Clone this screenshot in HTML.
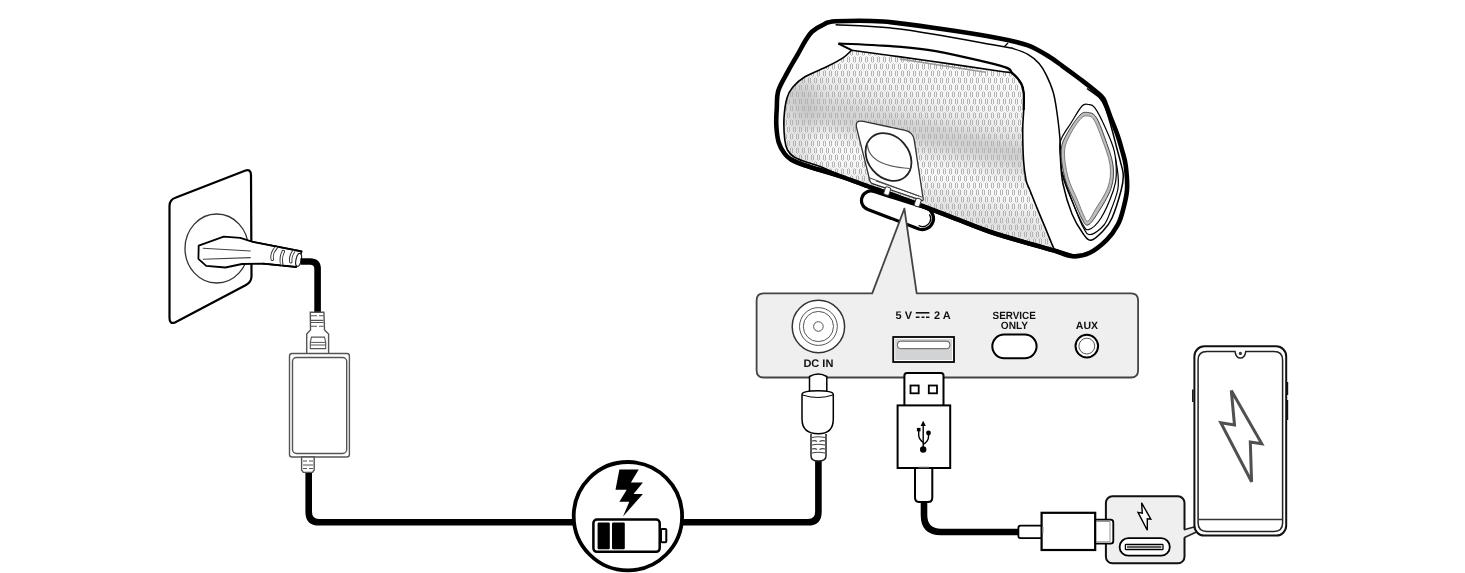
<!DOCTYPE html>
<html><head><meta charset="utf-8">
<style>
html,body{margin:0;padding:0;background:#fff;width:1465px;height:573px;overflow:hidden}
svg{position:absolute;left:0;top:0;display:block;will-change:transform}
text{font-family:"Liberation Sans",sans-serif;font-weight:bold;text-rendering:geometricPrecision}
</style></head>
<body>
<svg width="1465" height="573" viewBox="0 0 1465 573">
<defs>
<pattern id="grille" patternUnits="userSpaceOnUse" x="0" y="0" width="6" height="14">
<path d="M1,1h1v5h-1z M3,1h1v5h-1z M4,8h1v5h-1z M0,8h1v5h-1z M6,8h1v5h-1z" fill="#b3b3b3" shape-rendering="crispEdges"/>
<path d="M2,0h1v1h-1z M2,6h1v1h-1z M5,7h1v1h-1z M5,13h1v1h-1z" fill="#c6c6c6" shape-rendering="crispEdges"/>
</pattern>
<linearGradient id="gshade" gradientUnits="userSpaceOnUse" x1="915" y1="40" x2="865" y2="235">
<stop offset="0" stop-color="#fcfcfc"/>
<stop offset="0.25" stop-color="#f4f4f4"/>
<stop offset="0.4" stop-color="#dedede"/>
<stop offset="0.52" stop-color="#ececec"/>
<stop offset="0.62" stop-color="#fafafa"/>
<stop offset="0.8" stop-color="#ededed"/>
<stop offset="1" stop-color="#f6f6f6"/>
</linearGradient>
<linearGradient id="gleft" gradientUnits="userSpaceOnUse" x1="784" y1="0" x2="830" y2="0">
<stop offset="0" stop-color="#000" stop-opacity="0.07"/>
<stop offset="1" stop-color="#000" stop-opacity="0"/>
</linearGradient>
<filter id="gblur" x="-20%" y="-50%" width="140%" height="200%"><feGaussianBlur stdDeviation="7"/></filter>
</defs>

<!-- ============ WALL SOCKET ============ -->
<g id="wall">
<path d="M176,197.5 L245.5,170.5 Q251,168.8 251,175 L251.5,276 Q251.5,282 246,285 L175,322.5 Q169.5,324.5 169.5,318 L169.5,206 Q169.5,199.5 176,197.5 Z" fill="#fff" stroke="#000" stroke-width="2.2"/>
<ellipse cx="216.7" cy="248.5" rx="31.7" ry="34.5" fill="none" stroke="#333" stroke-width="1.3"/>
<path d="M198.7,245.7 L223.7,236.6 L240.3,237.9 L252.7,241.8 L301.6,251.4 L296.3,267 L263,263.6 L242,264 L225.4,267.5 L206.2,265.8 L198.4,258.8 Z" fill="#fff" stroke="#000" stroke-width="1.8" stroke-linejoin="round"/>
<path d="M202.8,248.3 L250.7,251 M202.8,259.3 L250.7,257.6" stroke="#444" stroke-width="1.1" fill="none"/>
<ellipse cx="298.6" cy="259.8" rx="2.6" ry="6.6" fill="#fff" stroke="#222" stroke-width="1.2" transform="rotate(12 298.6 259.8)"/>
<g fill="none" stroke-linecap="round">
<path d="M276,248 Q271,253 272.3,259.3 M281.7,264 Q280.3,257 283.3,251.6 M293.5,251.5 Q290,256 290.8,261.8" stroke="#333" stroke-width="3.4"/>
<path d="M277,246.5 Q271,253 272.3,259.3 M281.7,266 Q280.3,257 283.3,251.6 M294.5,250 Q290,256 290.8,261.8" stroke="#fff" stroke-width="1.6"/>
</g>
<path d="M252.7,241.8 L301.6,251.4 M263,263.6 L296.3,267" fill="none" stroke="#000" stroke-width="1.6"/>
</g>

<!-- ============ CABLES ============ -->
<g fill="none" stroke="#000" stroke-width="6.6" stroke-linecap="butt">
<path d="M300.5,261.5 L310,261.5 Q317.6,261.5 317.6,269 L317.6,314"/>
<path d="M308.7,470 L308.7,512 Q308.7,522.3 319,522.3 L580,522.3"/>
<path d="M676,522.3 L808,522.3 Q818.4,522.3 818.4,512 L818.4,458"/>
<path d="M924,500 L924,515 Q924,532 941,532 L1020,532"/>
</g>

<!-- ============ ADAPTER ============ -->
<g id="adapter" fill="#fff" stroke="#555" stroke-width="1.4">
<path d="M310.3,312.3 L323.9,312.3 L324.5,330 L328.6,334 L328.6,354 L306.7,354 L306.7,334 L310.5,330 Z"/>
<path d="M311,315.7 H317 M319,315.7 H323.5 M311,320.4 H323.5 M311,322.5 H323.5 M311,326.2 H317 M319,326.2 H323.5" fill="none" stroke-width="1.1"/>
<path d="M311.5,337.1 H324.5 L325.7,342.4 L325.7,348.6 L310.3,348.6 L310.3,342.4 Z" fill="none" stroke-width="1.1"/>
<path d="M310.3,342.4 H325.7 M310.3,345 H325.7" fill="none" stroke-width="1"/>
<rect x="289.5" y="353.5" width="59.9" height="103.5" rx="2.5"/>
<rect x="292.5" y="357.5" width="54.2" height="96" rx="4"/>
<path d="M301.6,457 L314.2,457 L314.2,470 L312.5,472.4 L303.3,472.4 L301.6,470 Z"/>
<path d="M303,461 H307 M309,461 H313 M303,465 H313 M303,468.5 H307 M309,468.5 H313" fill="none" stroke-width="1"/>
</g>

<!-- ============ CHARGE ICON ============ -->
<g id="charge">
<circle cx="627.9" cy="516.2" r="54.2" fill="#fff" stroke="#000" stroke-width="3.8"/>
<path d="M619.4,469.6 L638.7,469.6 L630.9,482.5 L642.9,482.5 L633.5,494 L642.9,494 L623,516.5 L629.3,501.7 L619.4,501.7 L626.7,489.8 L615.5,489.8 Z" fill="#000"/>
<rect x="593.4" y="519.5" width="66.3" height="32.3" rx="3.5" fill="#fff" stroke="#000" stroke-width="2.5"/>
<rect x="661" y="529" width="5.3" height="13.3" rx="1" fill="#fff" stroke="#000" stroke-width="2"/>
<rect x="597.6" y="522.6" width="12.2" height="26.6" rx="1.2" fill="#000"/>
<rect x="612" y="522.6" width="12.8" height="26.6" rx="1.2" fill="#000"/>
</g>

<!-- ============ SPEAKER ============ -->
<g id="speaker">
<!-- foot -->
<path d="M874.1,191.5 L926.1,208.1 A11,11 0 0 1 918.9,228.9 L867.9,209.5 A9.5,9.5 0 0 1 874.1,191.5 Z" fill="#fff" stroke="#000" stroke-width="3.2"/>
<path d="M929.4,214.4 A8,8 0 0 1 918.6,225.5" fill="none" stroke="#000" stroke-width="1.4"/>
<path d="M835.6,21.3 C845.6,20.8 865.3,20.2 883.0,21.5 C900.7,22.8 922.5,26.2 942.0,29.0 C961.5,31.8 985.7,35.7 1000.0,38.4 C1014.3,41.1 1019.8,42.4 1027.9,45.4 C1036.1,48.4 1043.1,53.0 1048.9,56.5 C1054.7,60.0 1057.6,62.5 1062.8,66.3 C1068.0,70.0 1073.5,74.0 1080.0,79.0 C1086.5,84.0 1097.2,92.2 1101.5,96.5 C1105.8,100.8 1104.5,101.6 1106.0,105.0 C1107.5,108.4 1108.6,112.0 1110.5,117.0 C1112.4,122.0 1115.6,129.5 1117.5,135.0 C1119.4,140.5 1120.6,144.8 1122.0,150.0 C1123.4,155.2 1125.0,159.3 1125.8,166.0 C1126.6,172.7 1127.5,182.7 1127.0,190.0 C1126.5,197.3 1124.5,204.2 1123.0,210.0 C1121.5,215.8 1120.5,219.9 1117.7,224.9 C1115.0,229.9 1111.2,235.5 1106.5,240.2 C1101.8,244.8 1095.4,250.1 1089.8,252.8 C1084.2,255.5 1079.0,256.7 1073.0,256.3 C1067.0,255.9 1060.9,252.5 1054.0,250.5 C1047.1,248.5 1042.4,247.3 1031.7,244.2 C1021.0,241.1 1003.8,236.5 989.8,231.7 C975.8,226.9 962.9,221.3 947.9,215.6 C932.9,209.9 913.0,202.3 900.0,197.5 C887.0,192.7 880.0,190.6 870.0,187.0 C860.0,183.4 850.6,179.6 839.8,176.0 C828.9,172.4 813.0,168.1 804.9,165.3 C796.8,162.6 794.4,161.5 791.0,159.5 C787.6,157.5 786.5,156.3 784.5,153.5 C782.5,150.7 780.1,147.2 778.7,142.4 C777.3,137.7 776.6,130.7 776.3,125.0 C776.0,119.3 776.4,113.8 776.8,108.0 C777.1,102.2 776.5,96.6 778.4,90.4 C780.3,84.2 785.0,77.0 788.2,70.9 C791.5,64.9 795.1,59.0 797.9,54.1 C800.7,49.2 802.6,45.2 804.9,41.5 C807.2,37.8 808.9,34.6 811.9,31.8 C814.9,29.0 819.0,26.6 823.0,24.8 C827.0,23.1 825.6,21.9 835.6,21.3 Z" fill="#fff" stroke="#000" stroke-width="4.6"/>
<path d="M851.6,50.2 C864.7,52.0 905.3,57.5 930.0,61.0 C954.7,64.5 986.2,69.1 1000.0,71.2 C1013.8,73.3 1009.1,71.5 1012.6,73.5 C1016.1,75.5 1019.1,79.9 1021.0,83.1 C1022.9,86.3 1023.2,88.3 1023.7,92.8 C1024.2,97.3 1023.9,103.8 1023.7,110.0 C1023.5,116.2 1022.7,121.7 1022.7,130.0 C1022.7,138.3 1023.0,151.7 1023.5,160.0 C1024.0,168.3 1025.0,175.0 1026.0,180.0 C1027.0,185.0 1027.7,184.7 1029.8,190.0 C1031.9,195.3 1035.8,205.1 1038.7,212.1 C1041.6,219.1 1044.5,225.8 1047.0,232.0 C1049.5,238.2 1052.8,246.2 1054.0,249.0 L1054.0,249.0 C1050.3,248.0 1042.4,246.1 1031.7,243.0 C1021.0,239.9 1003.8,235.2 989.8,230.5 C975.8,225.8 962.9,220.2 947.9,214.5 C932.9,208.8 913.0,201.2 900.0,196.5 C887.0,191.8 880.0,189.6 870.0,186.0 C860.0,182.4 848.1,178.2 839.8,175.0 C831.5,171.8 825.6,168.7 820.0,166.5 C814.4,164.3 810.3,163.6 806.0,162.0 C801.7,160.4 797.1,159.0 794.0,157.0 C790.9,155.0 789.0,152.8 787.5,150.0 C786.0,147.2 785.4,145.3 784.8,140.0 C784.2,134.7 783.6,125.0 784.0,118.0 C784.4,111.0 785.5,103.1 787.0,98.0 C788.5,92.9 789.7,90.8 792.7,87.3 C795.7,83.8 799.1,80.3 804.9,76.8 C810.7,73.3 821.2,69.5 827.6,66.3 C834.0,63.1 839.3,60.3 843.3,57.6 C847.3,54.9 850.2,51.4 851.6,50.2 Z" fill="url(#gshade)"/>
<clipPath id="gclip"><path d="M851.6,50.2 C864.7,52.0 905.3,57.5 930.0,61.0 C954.7,64.5 986.2,69.1 1000.0,71.2 C1013.8,73.3 1009.1,71.5 1012.6,73.5 C1016.1,75.5 1019.1,79.9 1021.0,83.1 C1022.9,86.3 1023.2,88.3 1023.7,92.8 C1024.2,97.3 1023.9,103.8 1023.7,110.0 C1023.5,116.2 1022.7,121.7 1022.7,130.0 C1022.7,138.3 1023.0,151.7 1023.5,160.0 C1024.0,168.3 1025.0,175.0 1026.0,180.0 C1027.0,185.0 1027.7,184.7 1029.8,190.0 C1031.9,195.3 1035.8,205.1 1038.7,212.1 C1041.6,219.1 1044.5,225.8 1047.0,232.0 C1049.5,238.2 1052.8,246.2 1054.0,249.0 L1054.0,249.0 C1050.3,248.0 1042.4,246.1 1031.7,243.0 C1021.0,239.9 1003.8,235.2 989.8,230.5 C975.8,225.8 962.9,220.2 947.9,214.5 C932.9,208.8 913.0,201.2 900.0,196.5 C887.0,191.8 880.0,189.6 870.0,186.0 C860.0,182.4 848.1,178.2 839.8,175.0 C831.5,171.8 825.6,168.7 820.0,166.5 C814.4,164.3 810.3,163.6 806.0,162.0 C801.7,160.4 797.1,159.0 794.0,157.0 C790.9,155.0 789.0,152.8 787.5,150.0 C786.0,147.2 785.4,145.3 784.8,140.0 C784.2,134.7 783.6,125.0 784.0,118.0 C784.4,111.0 785.5,103.1 787.0,98.0 C788.5,92.9 789.7,90.8 792.7,87.3 C795.7,83.8 799.1,80.3 804.9,76.8 C810.7,73.3 821.2,69.5 827.6,66.3 C834.0,63.1 839.3,60.3 843.3,57.6 C847.3,54.9 850.2,51.4 851.6,50.2 Z"/></clipPath>
<g clip-path="url(#gclip)">
<g filter="url(#gblur)">
<path d="M800,100 L1030,150 L1030,170 L800,122 Z" fill="#000" fill-opacity="0.09"/>
<path d="M780,80 L815,80 L812,170 L780,170 Z" fill="#000" fill-opacity="0.08"/>
<path d="M860,175 L1040,215 L1050,250 L850,200 Z" fill="#000" fill-opacity="0.05"/>
</g>
</g>
<path d="M851.6,50.2 C864.7,52.0 905.3,57.5 930.0,61.0 C954.7,64.5 986.2,69.1 1000.0,71.2 C1013.8,73.3 1009.1,71.5 1012.6,73.5 C1016.1,75.5 1019.1,79.9 1021.0,83.1 C1022.9,86.3 1023.2,88.3 1023.7,92.8 C1024.2,97.3 1023.9,103.8 1023.7,110.0 C1023.5,116.2 1022.7,121.7 1022.7,130.0 C1022.7,138.3 1023.0,151.7 1023.5,160.0 C1024.0,168.3 1025.0,175.0 1026.0,180.0 C1027.0,185.0 1027.7,184.7 1029.8,190.0 C1031.9,195.3 1035.8,205.1 1038.7,212.1 C1041.6,219.1 1044.5,225.8 1047.0,232.0 C1049.5,238.2 1052.8,246.2 1054.0,249.0 L1054.0,249.0 C1050.3,248.0 1042.4,246.1 1031.7,243.0 C1021.0,239.9 1003.8,235.2 989.8,230.5 C975.8,225.8 962.9,220.2 947.9,214.5 C932.9,208.8 913.0,201.2 900.0,196.5 C887.0,191.8 880.0,189.6 870.0,186.0 C860.0,182.4 848.1,178.2 839.8,175.0 C831.5,171.8 825.6,168.7 820.0,166.5 C814.4,164.3 810.3,163.6 806.0,162.0 C801.7,160.4 797.1,159.0 794.0,157.0 C790.9,155.0 789.0,152.8 787.5,150.0 C786.0,147.2 785.4,145.3 784.8,140.0 C784.2,134.7 783.6,125.0 784.0,118.0 C784.4,111.0 785.5,103.1 787.0,98.0 C788.5,92.9 789.7,90.8 792.7,87.3 C795.7,83.8 799.1,80.3 804.9,76.8 C810.7,73.3 821.2,69.5 827.6,66.3 C834.0,63.1 839.3,60.3 843.3,57.6 C847.3,54.9 850.2,51.4 851.6,50.2 Z" fill="url(#grille)" stroke="#000" stroke-width="1.6"/>
<path d="M899.8,59 L985.7,72.3" stroke="#999" stroke-width="1.4"/>
<path d="M1073.0,256.3 C1069.8,255.3 1060.9,252.5 1054.0,250.5 C1047.1,248.5 1042.4,247.3 1031.7,244.2 C1021.0,241.1 1003.8,236.5 989.8,231.7 C975.8,226.9 962.9,221.3 947.9,215.6 C932.9,209.9 913.0,202.3 900.0,197.5 C887.0,192.7 880.0,190.6 870.0,187.0 C860.0,183.4 850.6,179.6 839.8,176.0 C828.9,172.4 813.0,168.1 804.9,165.3 C796.8,162.6 793.3,160.5 791.0,159.5" fill="none" stroke="#000" stroke-width="4.4"/>
<path d="M838.4,43.6 C844.0,43.8 857.0,44.0 871.9,45.0 C886.8,46.0 906.4,46.5 927.8,49.9 C949.1,53.3 985.9,61.7 1000.0,65.6 C1014.1,69.5 1009.1,70.4 1012.6,73.3 C1016.1,76.2 1019.1,79.8 1021.0,83.1 C1022.9,86.3 1023.2,88.3 1023.7,92.8 C1024.2,97.3 1023.7,107.1 1023.7,110.0" fill="none" stroke="#000" stroke-width="2.2"/>
<path d="M838.4,43.6 L851.6,50.2" fill="none" stroke="#000" stroke-width="2"/>
<path d="M835.6,24.8 C846.3,25.5 872.4,25.5 899.8,29.0 C927.2,32.5 981.0,42.7 1000.0,46.0 C1019.0,49.3 1009.4,47.5 1014.0,48.9 C1018.6,50.3 1023.7,52.0 1027.9,54.4 C1032.1,56.8 1036.1,60.1 1039.1,63.5 C1042.1,66.9 1043.8,70.0 1046.1,74.7 C1048.4,79.4 1051.2,85.6 1053.0,91.5 C1054.8,97.4 1055.5,102.4 1056.6,110.0 C1057.7,117.6 1059.1,128.6 1059.8,136.9 C1060.5,145.2 1060.0,152.2 1060.5,160.0 C1061.0,167.8 1061.1,175.0 1063.0,184.0 C1064.9,193.0 1068.7,205.8 1072.0,214.0 C1075.3,222.2 1079.8,229.1 1083.0,233.5 C1086.2,237.9 1087.7,240.6 1091.0,240.2 C1094.3,239.8 1099.5,234.7 1103.0,231.0 C1106.5,227.3 1109.0,224.8 1112.0,218.0 C1115.0,211.2 1119.3,197.2 1121.2,190.0 C1123.1,182.8 1123.4,179.7 1123.3,175.0 C1123.2,170.3 1121.6,166.7 1120.5,162.0 C1119.4,157.3 1118.0,152.8 1116.5,147.0 C1115.0,141.2 1113.2,133.7 1111.3,127.0 C1109.4,120.3 1107.0,111.9 1105.0,107.0 C1103.0,102.1 1102.2,100.6 1099.2,97.5 C1096.2,94.4 1089.0,90.0 1087.0,88.5" fill="none" stroke="#000" stroke-width="1.5"/>
<path d="M1004.5,46.5 L1008,43" stroke="#000" stroke-width="1.2"/>

<g fill="none" stroke="#000" stroke-width="1.2">
<path d="M1088.4,104.5 C1090.5,104.8 1091.9,103.8 1094.7,107.6 C1097.5,111.3 1101.8,119.8 1105.0,127.0 C1108.2,134.2 1112.3,142.8 1114.2,150.8 C1116.1,158.8 1116.4,168.5 1116.3,175.0 C1116.2,181.5 1116.0,182.8 1113.5,190.0 C1111.0,197.2 1105.2,211.4 1101.0,218.0 C1096.8,224.6 1091.7,228.8 1088.5,229.6 C1085.3,230.4 1084.8,227.8 1082.0,223.0 C1079.2,218.2 1075.2,208.7 1072.0,201.0 C1068.8,193.3 1064.9,184.2 1063.0,177.0 C1061.1,169.8 1061.0,164.0 1060.6,158.0 C1060.2,152.0 1058.8,146.8 1060.5,141.0 C1062.2,135.2 1067.4,128.8 1071.0,123.0 C1074.6,117.2 1079.1,109.1 1082.0,106.0 C1084.9,102.9 1086.3,104.2 1088.4,104.5 Z"/>
<path d="M1115.5,158.0 C1115.9,160.8 1117.6,169.7 1118.0,175.0 C1118.4,180.3 1118.9,184.2 1117.7,190.0 C1116.5,195.8 1113.3,204.2 1111.0,210.0 C1108.7,215.8 1107.4,220.9 1104.0,225.0 C1100.6,229.1 1094.0,234.2 1090.5,234.5 C1087.0,234.8 1086.4,233.6 1083.0,227.0 C1079.6,220.4 1073.5,204.2 1070.0,195.0 C1066.5,185.8 1063.3,175.8 1062.0,172.0"/>
</g>
<path d="M1087.7,112.5 C1090.4,112.8 1093.2,112.9 1096.0,117.0 C1098.8,121.1 1101.7,129.0 1104.5,137.0 C1107.3,145.0 1111.9,156.4 1113.0,165.0 C1114.1,173.6 1113.6,180.4 1111.0,188.5 C1108.4,196.6 1101.4,207.2 1097.6,213.3 C1093.8,219.4 1090.6,224.1 1088.0,225.0 C1085.4,225.9 1084.2,222.9 1082.0,219.0 C1079.8,215.1 1077.3,208.5 1074.5,201.8 C1071.7,195.1 1067.2,187.4 1065.0,178.8 C1062.8,170.2 1060.6,157.8 1061.1,150.0 C1061.6,142.2 1064.8,137.8 1068.0,132.0 C1071.2,126.2 1076.7,118.2 1080.0,115.0 C1083.3,111.8 1085.0,112.2 1087.7,112.5 Z" fill="#bdbdbd" stroke="#333" stroke-width="0.9"/>
<path d="M1087.7,116.0 C1089.9,116.2 1091.6,116.2 1094.0,120.0 C1096.4,123.8 1099.3,131.5 1102.0,139.0 C1104.7,146.5 1109.0,157.0 1110.0,165.0 C1111.0,173.0 1110.5,179.5 1108.0,187.0 C1105.5,194.5 1098.3,204.3 1095.0,210.0 C1091.7,215.7 1089.8,220.0 1088.0,221.0 C1086.2,222.0 1085.8,219.7 1084.0,216.0 C1082.2,212.3 1079.7,205.5 1077.0,199.0 C1074.3,192.5 1070.1,185.0 1068.0,177.0 C1065.9,169.0 1064.1,158.2 1064.5,151.0 C1064.9,143.8 1067.8,139.4 1070.5,134.0 C1073.2,128.6 1078.1,121.5 1081.0,118.5 C1083.9,115.5 1085.5,115.8 1087.7,116.0 Z" fill="#fff" stroke="#666" stroke-width="0.8"/>
<path d="M856.7,128.2 Q854.5,119.5 863.3,121.4 L905.2,130.3 Q913.0,132.0 914.2,139.9 L923.2,199.0 Q923.5,201.0 921.6,200.4 L872.4,183.6 Q870.5,183.0 870.0,181.1 Z" fill="#fff" stroke="#333" stroke-width="1.3"/>
<ellipse cx="888.5" cy="157" rx="26" ry="20.5" fill="#fff" stroke="#222" stroke-width="1.8" transform="rotate(50 888.5 157)"/>
<path d="M867.3,143.5 Q868,166 909.7,168.5" fill="none" stroke="#555" stroke-width="1.1"/>
<path d="M869.7,177.9 L922,197.2 M876,181 L919,196" fill="none" stroke="#444" stroke-width="1"/>
<path d="M872,186 L920,203" fill="none" stroke="#000" stroke-width="1"/>
<rect x="884.5" y="187" width="5.5" height="8" rx="1.5" fill="#fff" stroke="#333" stroke-width="1" transform="rotate(18 887 191)"/>
<rect x="915" y="198.5" width="5.5" height="8" rx="1.5" fill="#fff" stroke="#333" stroke-width="1" transform="rotate(18 917.8 202.5)"/>
</g>

<!-- ============ PANEL ============ -->
<g id="panel">
<path d="M763.5,293.4 L872.2,293.4 L904.4,208.6 L916.7,293.4 L1131,293.4 Q1138.1,293.4 1138.1,300.5 L1138.1,370.5 Q1138.1,377.5 1131,377.5 L763.5,377.5 Q756.6,377.5 756.6,370.5 L756.6,300.5 Q756.6,293.4 763.5,293.4 Z" fill="#efefef" stroke="#444" stroke-width="1.8" stroke-linejoin="round"/>
<!-- DC jack -->
<circle cx="818.4" cy="326.5" r="26.2" fill="#fff" stroke="#333" stroke-width="1.5"/>
<circle cx="818.4" cy="326.5" r="18.9" fill="none" stroke="#555" stroke-width="1"/>
<circle cx="818.4" cy="326.5" r="15.1" fill="none" stroke="#555" stroke-width="1"/>
<circle cx="818.4" cy="326.5" r="4.8" fill="none" stroke="#555" stroke-width="1"/>
<text x="818.4" y="367" font-size="11" text-anchor="middle" fill="#111">DC IN</text>
<!-- 5V 2A -->
<text x="895.5" y="319" font-size="11" fill="#111">5 V</text>
<path d="M915.8,312.8 H929.4" stroke="#111" stroke-width="1.6"/>
<path d="M915.8,317.3 H919.5 M921.5,317.3 H924.5 M926,317.3 H929.4" stroke="#111" stroke-width="1.6"/>
<text x="934" y="319" font-size="11" fill="#111">2 A</text>
<!-- USB port -->
<rect x="893.2" y="337" width="60.8" height="25" fill="#fff" stroke="#000" stroke-width="1.8"/>
<rect x="895.2" y="339" width="56.8" height="21" fill="#d2d3d5"/>
<rect x="897.5" y="341.2" width="52.3" height="7.5" rx="3" fill="#fff" stroke="#555" stroke-width="1"/>
<!-- service -->
<text x="992.6" y="319" font-size="10.5" textLength="43.2" lengthAdjust="spacingAndGlyphs" fill="#111">SERVICE</text>
<text x="1000.8" y="328.6" font-size="10.5" textLength="27.2" lengthAdjust="spacingAndGlyphs" fill="#111">ONLY</text>
<rect x="992.3" y="334.5" width="44.3" height="23.7" rx="11.85" fill="#fff" stroke="#000" stroke-width="2"/>
<!-- aux -->
<text x="1086.9" y="328.7" font-size="10.5" text-anchor="middle" fill="#111">AUX</text>
<circle cx="1086.8" cy="346.1" r="11.3" fill="#fff" stroke="#000" stroke-width="2"/>
<circle cx="1086.8" cy="346.1" r="7.9" fill="#fff" stroke="#555" stroke-width="1"/>
</g>

<!-- ============ DC PLUG ============ -->
<g id="dcplug" fill="#fff" stroke="#000" stroke-width="1.5">
<path d="M809.5,392 L809.5,376.5 Q818.2,371.5 826.8,376.5 L826.8,392"/>
<path d="M811,434 L811,456 Q811,461 818.3,461 Q826,461 826,456 L826,434" stroke="#222"/>
<path d="M812,437.5 Q818,436 825,437.5 M812,441 Q815,440 817,441.5 M819.5,441.5 Q822,440 825,441 M812,445 Q818,443.5 825,445 M812,449 Q815,448 817,449.5 M819.5,449.5 Q822,448 825,449 M812,453 Q818,451.5 825,453" fill="none" stroke="#444" stroke-width="1.1"/>
<path d="M802,394.5 Q802,390.7 818,390.7 Q833.3,390.7 833.3,394.5 L833.3,419 Q833.3,433.8 818.4,433.8 Q802,433.8 802,419 Z"/>
<path d="M802.3,395 Q818,400 833,395" fill="none" stroke-width="1"/>
</g>

<!-- ============ USB-A PLUG ============ -->
<g id="usba" fill="#fff" stroke="#000" stroke-width="2">
<path d="M904.4,405.3 L904.4,375.5 Q904.4,372.9 907,372.9 L941,372.9 Q943.5,372.9 943.5,375.5 L943.5,405.3"/>
<rect x="910.5" y="385.5" width="8.2" height="7.8" stroke-width="1.8"/>
<rect x="928.8" y="385.5" width="8.2" height="7.8" stroke-width="1.8"/>
<path d="M915,468 L915,497.5 Q915,502 919.5,502 L928,502 Q932.3,502 932.3,497.5 L932.3,468"/>
<rect x="897.6" y="405.4" width="52.6" height="62.6"/>
<path d="M918.5,467.5 H929" stroke="#555" stroke-width="1.5"/>
<!-- usb symbol -->
<g stroke="#000" stroke-width="1.4" fill="none">
<path d="M923.2,424 L923.2,449"/>
<path d="M918.7,431 L918.7,435 Q918.7,439 923.2,442.5"/>
<path d="M928.5,433 L928.5,437 Q928.5,441 923.2,444.5"/>
</g>
<path d="M923.2,420.8 L925.8,425.9 L920.6,425.9 Z" fill="#000" stroke="none"/>
<rect x="916.9" y="427.9" width="3.6" height="3.4" fill="#000" stroke="none"/>
<circle cx="928.5" cy="433" r="2.4" fill="#000" stroke="none"/>
<circle cx="923.2" cy="449.5" r="3.2" fill="#000" stroke="none"/>
</g>

<!-- ============ USB-C PLUG + BOX ============ -->
<g id="usbc">
<path d="M1042.1,525.6 L1020.5,525.6 Q1018.4,525.6 1018.4,528 L1018.4,536 Q1018.4,538.1 1020.5,538.1 L1042.1,538.1" fill="#fff" stroke="#000" stroke-width="1.8"/>
<rect x="1041.6" y="512.8" width="53.6" height="37.2" fill="#fff" stroke="#000" stroke-width="2.2"/>
<path d="M1043,527 V533" stroke="#999" stroke-width="1.2"/>

<rect x="1105.9" y="496.3" width="78.6" height="67" rx="6.5" fill="#efefef" stroke="#111" stroke-width="2"/>
<path d="M1183,529.8 L1195,527 L1196.4,532 L1183,538" fill="#efefef" stroke="none"/>
<path d="M1184,529.8 L1195,526.8 M1184,537.8 L1196.4,532" fill="none" stroke="#222" stroke-width="1.6"/>
<path d="M1095.4,519.7 L1110.5,519.7 Q1113.3,519.7 1113.3,522.5 L1113.3,541 Q1113.3,543.7 1110.5,543.7 L1095.4,543.7 Z" fill="#fff" stroke="#000" stroke-width="1.8"/>
<path d="M1096,521.5 L1110,521.5 L1110,541.8 L1096,541.8" fill="none" stroke="#888" stroke-width="0.9"/>
<path d="M1141.6,502.8 L1150.8,519.1 L1147.3,518.7 L1147.3,530.3 L1138,512.4 L1142.3,513.2 Z" fill="#fff" stroke="#000" stroke-width="1.4" stroke-linejoin="miter"/>
<rect x="1119.6" y="538.2" width="50.2" height="17.4" rx="8.7" fill="#fff" stroke="#000" stroke-width="1.8"/>
<rect x="1125.4" y="544.3" width="37.6" height="5.4" rx="0.8" fill="#fff" stroke="#000" stroke-width="1.3"/>
<rect x="1127" y="545.6" width="34.4" height="2.8" fill="#606060"/>
</g>

<!-- ============ PHONE ============ -->
<g id="phone">
<rect x="1194.4" y="346.3" width="91.8" height="189.3" rx="10" fill="#fff" stroke="#111" stroke-width="2"/>
<path d="M1207,351.4 L1235,351.4 Q1236,358.1 1240.4,358.1 Q1244.8,358.1 1245.8,351.4 L1274,351.4 Q1282.6,351.4 1282.6,360 L1282.6,523 Q1282.6,531.4 1274,531.4 L1207,531.4 Q1198.1,531.4 1198.1,523 L1198.1,360 Q1198.1,351.4 1207,351.4 Z" fill="#fff" stroke="#222" stroke-width="1.5"/>
<circle cx="1240.4" cy="353.4" r="1.6" fill="#333"/>
<path d="M1198.5,519.5 H1282.3" stroke="#333" stroke-width="1.5"/>
<path d="M1192.8,389.6 V402" stroke="#111" stroke-width="1.5"/>
<path d="M1287.6,381.9 V395 M1287.6,400 V420" stroke="#111" stroke-width="1.2"/>
<path d="M1231.3,390.5 L1234.5,425 L1220.8,422.8 L1251.6,481.8 L1250.3,442 L1261.8,443.7 Z" fill="#fff" stroke="#505050" stroke-width="3" stroke-linejoin="miter"/>
</g>

</svg>
</body></html>
